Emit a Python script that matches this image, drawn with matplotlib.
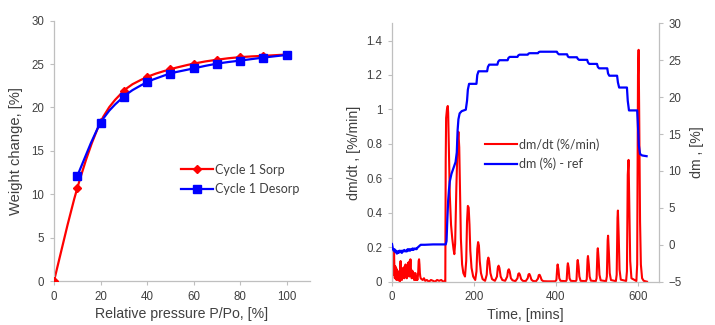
import matplotlib
matplotlib.use("Agg")
import matplotlib.pyplot as plt
from matplotlib.path import Path
from matplotlib.patches import PathPatch
from matplotlib.lines import Line2D
import numpy as np

# ---- Isotherm (left panel) ----
pressure_sorp = [0, 10, 20, 30, 40, 50, 60, 70, 80, 90, 100]
weight_sorp = [0.0, 10.7, 18.3, 21.9, 23.5, 24.4, 25.05, 25.5, 25.8, 25.95, 26.1]
pressure_desorp = [10, 20, 30, 40, 50, 60, 70, 80, 90, 100]
weight_desorp = [12.1, 18.2, 21.25, 22.9, 23.9, 24.5, 25.05, 25.4, 25.75, 26.05]

# ---- Kinetics (right panel) ----
# dm/dt trace, %/min
rate_time = [
    0, 1, 2, 3, 4, 5, 6, 7, 8, 9, 10, 11, 12, 13, 14, 15, 16, 17, 18, 19,
    20, 21, 22, 23, 24, 25, 26, 27, 28, 29, 30, 31, 32, 33, 34, 35, 36, 37, 38, 39,
    40, 41, 42, 43, 44, 45, 46, 47, 48, 49, 50, 51, 52, 53, 54, 55, 56, 57, 58, 59,
    60, 61, 62, 63, 64, 65, 66, 67, 68, 69, 70,
    72, 75, 78, 81, 85, 90, 95, 100, 105, 110, 115, 120, 125, 129, 130,
    131, 132, 134, 136, 137, 139, 141, 144, 147, 150, 152, 154, 157, 160, 162, 164,
    166, 168, 171, 174, 178, 181, 183, 185, 187, 189, 191, 194, 198, 203,
    206, 208, 210, 212, 214, 217, 221, 227,
    231, 233, 235, 237, 240, 244, 251,
    256, 258, 260, 262, 265, 269, 276,
    281, 283, 285, 287, 290, 294, 301,
    306, 308, 310, 312, 315, 319, 326,
    331, 333, 335, 337, 340, 344, 351,
    356, 358, 360, 362, 365, 369, 380, 398,
    401, 403, 404, 406, 408, 411, 424,
    426, 428, 429, 431, 433, 436, 448,
    450, 452, 453, 455, 457, 460, 473,
    475, 477, 478, 480, 482, 485, 497,
    499, 501, 502, 504, 506, 509, 522,
    524, 526, 527, 529, 531, 534, 546,
    548, 550, 551, 553, 555, 558, 571,
    573, 575, 577, 579, 581, 584, 596,
    598, 600, 601.5, 603, 605, 607, 610, 614, 622,
]
rate_value = [
    0.00, 0.19, 0.10, 0.16, 0.04, 0.17, 0.06, 0.02, 0.09, 0.03, 0.08, 0.01, 0.07, 0.03, 0.05, 0.01, 0.06, 0.02, 0.04, 0.00,
    0.09, 0.12, 0.03, 0.06, 0.01, 0.05, 0.02, 0.08, 0.03, 0.07, 0.02, 0.09, 0.04, 0.10, 0.03, 0.06, 0.02, 0.08, 0.04, 0.11,
    0.05, 0.08, 0.03, 0.12, 0.06, 0.13, 0.04, 0.07, 0.02, 0.05, 0.03, 0.06, 0.02, 0.05, 0.01, 0.04, 0.02, 0.05, 0.01, 0.03,
    0.01, 0.02, 0.01, 0.03, 0.06, 0.12, 0.13, 0.10, 0.05, 0.03, 0.02,
    0.015, 0.01, 0.02, 0.005, 0.01, 0.0, 0.01, 0.005, 0.0, 0.01, 0.005, 0.01, 0.0, 0.005, 0.0,
    0.70, 0.95, 1.00, 1.02, 0.98, 0.75, 0.50, 0.33, 0.25, 0.19, 0.16, 0.22, 0.55, 0.80, 0.87, 0.78,
    0.50, 0.25, 0.10, 0.05, 0.03, 0.12, 0.35, 0.44, 0.43, 0.33, 0.18, 0.08, 0.03, 0.01,
    0.06, 0.19, 0.23, 0.21, 0.12, 0.05, 0.015, 0.005,
    0.04, 0.12, 0.14, 0.12, 0.05, 0.015, 0.005,
    0.03, 0.08, 0.093, 0.08, 0.03, 0.01, 0.005,
    0.03, 0.065, 0.072, 0.06, 0.02, 0.008, 0.003,
    0.02, 0.045, 0.049, 0.04, 0.015, 0.005, 0.003,
    0.02, 0.042, 0.045, 0.035, 0.012, 0.004, 0.002,
    0.018, 0.038, 0.04, 0.03, 0.01, 0.003, 0.002, 0.002,
    0.01, 0.08, 0.10, 0.07, 0.02, 0.005, 0.003,
    0.01, 0.09, 0.107, 0.08, 0.02, 0.005, 0.003,
    0.01, 0.11, 0.126, 0.09, 0.03, 0.005, 0.003,
    0.015, 0.13, 0.149, 0.10, 0.03, 0.006, 0.003,
    0.02, 0.17, 0.194, 0.13, 0.04, 0.008, 0.003,
    0.03, 0.24, 0.267, 0.17, 0.05, 0.01, 0.003,
    0.04, 0.37, 0.413, 0.26, 0.07, 0.012, 0.004,
    0.06, 0.62, 0.707, 0.42, 0.12, 0.02, 0.004,
    0.10, 1.20, 1.346, 0.95, 0.35, 0.10, 0.02, 0.005, 0.0,
]

# mass change relative to reference, %
mass_time = [
    0, 2, 4, 6, 8, 10, 12, 14, 16, 18, 20, 22, 24, 26, 28, 30, 32, 34, 36, 38,
    40, 42, 44, 46, 48, 50, 52, 54, 56, 58, 60, 62, 64, 66, 68, 70, 74, 80, 100, 120, 131,
    133, 135, 137, 139, 141, 145, 150, 155, 158, 160, 162, 165, 170, 180,
    183, 185, 188, 206, 208, 211, 232, 234, 237, 257, 259, 262, 282, 284, 287,
    306, 308, 311, 331, 333, 336, 356, 358, 361,
    402, 404, 407, 427, 429, 432, 451, 453, 456, 476, 478, 481, 500, 502, 505,
    525, 527, 530, 549, 551, 554, 573, 575, 578, 598, 600, 602, 605, 610, 621,
]
mass_value = [
    0.1, -0.5, -0.8, -0.6, -1.0, -0.8, -1.2, -0.9, -1.1, -0.8, -1.0, -0.8, -1.1, -0.8, -0.9, -0.7, -0.9, -0.8, -0.9, -0.6,
    -0.8, -0.6, -0.8, -0.6, -0.7, -0.5, -0.7, -0.5, -0.6, -0.5, -0.6, -0.4, -0.3, -0.2, -0.1, 0.0, 0.0, 0.0, 0.05, 0.05, 0.05,
    0.5, 3.5, 6.0, 7.5, 8.6, 9.6, 10.4, 11.2, 12.5, 15.5, 17.0, 17.8, 18.1, 18.3,
    19.5, 21.0, 21.8, 21.8, 23.0, 23.5, 23.5, 24.1, 24.4, 24.4, 24.8, 25.0, 25.0, 25.3, 25.45,
    25.45, 25.65, 25.75, 25.75, 25.9, 25.95, 25.95, 26.1, 26.15,
    26.15, 25.95, 25.8, 25.8, 25.5, 25.4, 25.4, 25.2, 25.05, 25.05, 24.7, 24.5, 24.5, 24.1, 23.9,
    23.9, 23.2, 22.9, 22.9, 22.0, 21.3, 21.3, 19.5, 18.2, 18.2, 16.0, 13.5, 12.3, 12.1, 12.0,
]

rate_ticks = [0, 0.2, 0.4, 0.6, 0.8, 1.0, 1.2, 1.4]
rate_ticklabels = ["0", "0.2", "0.4", "0.6", "0.8", "1", "1.2", "1.4"]
mass_ticks = [-5, 0, 5, 10, 15, 20, 25, 30]
time_ticks = [0, 200, 400, 600]

RED = "#ff0000"
BLUE = "#0000ff"
AXIS = "#bfbfbf"
TEXT = "#404040"
TICK_FONT = "Liberation Sans"
LEG_FONT = "Lato"

plt.rcParams["font.family"] = [TICK_FONT, "DejaVu Sans"]


def smooth_path(xs, ys):
    """Cubic Bezier path through the points (Catmull-Rom style tangents)."""
    pts = np.column_stack([xs, ys]).astype(float)
    n = len(pts)
    verts = [pts[0]]
    codes = [Path.MOVETO]
    for i in range(n - 1):
        p0 = pts[i - 1] if i > 0 else pts[i]
        p1 = pts[i]
        p2 = pts[i + 1]
        p3 = pts[i + 2] if i + 2 < n else pts[i + 1]
        c1 = p1 + (p2 - p0) / 6.0
        c2 = p2 - (p3 - p1) / 6.0
        verts += [c1, c2, p2]
        codes += [Path.CURVE4] * 3
    return Path(verts, codes)


def style_axes(ax, sides):
    for s in ax.spines:
        ax.spines[s].set_visible(s in sides)
        ax.spines[s].set_color(AXIS)
        ax.spines[s].set_linewidth(0.9)
    ax.tick_params(colors=AXIS, labelcolor=TEXT, labelsize=8.3, length=3, width=0.8, pad=4)


fig = plt.figure(figsize=(7.15, 3.25), dpi=100)

# ---------------- left panel ----------------
ax1 = fig.add_axes([54 / 715, 1 - 281 / 325, 256 / 715, 260.3 / 325])
style_axes(ax1, ("left", "bottom"))
ax1.add_patch(PathPatch(smooth_path(pressure_sorp, weight_sorp), fill=False,
                        edgecolor=RED, lw=1.6, zorder=2))
ax1.plot(pressure_sorp, weight_sorp, ls="none", marker="D", ms=4.2,
         color=RED, zorder=3)
ax1.add_patch(PathPatch(smooth_path(pressure_desorp, weight_desorp), fill=False,
                        edgecolor=BLUE, lw=1.6, zorder=4))
ax1.plot(pressure_desorp, weight_desorp, ls="none", marker="s", ms=6.3,
         color=BLUE, zorder=5)
ax1.set_xlim(0, 110)
ax1.set_ylim(0, 30)
ax1.set_xticks([0, 20, 40, 60, 80, 100])
ax1.set_yticks([0, 5, 10, 15, 20, 25, 30])
ax1.set_xlabel("Relative pressure P/Po, [%]", fontsize=10.2, color=TEXT, labelpad=3)
ax1.set_ylabel("Weight change, [%]", fontsize=10.6, color=TEXT, labelpad=6)

h_sorp = Line2D([], [], color=RED, lw=1.6, marker="D", ms=4.2)
h_desorp = Line2D([], [], color=BLUE, lw=1.6, marker="s", ms=6.3)
leg1 = ax1.legend([h_sorp, h_desorp], ["Cycle 1 Sorp", "Cycle 1 Desorp"],
                  loc="upper left", bbox_to_anchor=(181 / 715, 1 - 163.5 / 325),
                  bbox_transform=fig.transFigure, frameon=False, borderpad=0,
                  borderaxespad=0, handlelength=2.55, handletextpad=0.15,
                  labelspacing=0.62, numpoints=1,
                  prop={"family": LEG_FONT, "size": 9})
for t in leg1.get_texts():
    t.set_color(TEXT)

# ---------------- right panel ----------------
ax2 = fig.add_axes([392 / 715, 1 - 281.7 / 325, 266.5 / 715, 258.4 / 325])
ax3 = ax2.twinx()
style_axes(ax2, ("left", "bottom"))
style_axes(ax3, ("right",))
ax2.plot(rate_time, rate_value, color=RED, lw=1.5)
ax3.plot(mass_time, mass_value, color=BLUE, lw=1.6)
ax2.set_xlim(0, 650)
ax2.set_ylim(0, 1.5)
ax3.set_ylim(-5, 30)
ax2.set_xticks(time_ticks)
ax2.set_yticks(rate_ticks)
ax2.set_yticklabels(rate_ticklabels)
ax3.set_yticks(mass_ticks)
ax2.set_xlabel("Time, [mins]", fontsize=10.2, color=TEXT, labelpad=3)
ax2.set_ylabel("dm/dt , [%/min]", fontsize=10.2, color=TEXT, labelpad=4)
ax3.set_ylabel("dm , [%]", fontsize=10.2, color=TEXT, labelpad=6)

h_rate = Line2D([], [], color=RED, lw=1.5)
h_mass = Line2D([], [], color=BLUE, lw=1.6)
leg2 = ax3.legend([h_rate, h_mass], ["dm/dt (%/min)", "dm (%) - ref"],
                  loc="upper left", bbox_to_anchor=(485 / 715, 1 - 138 / 325),
                  bbox_transform=fig.transFigure, frameon=False, borderpad=0,
                  borderaxespad=0, handlelength=2.55, handletextpad=0.15,
                  labelspacing=0.55,
                  prop={"family": LEG_FONT, "size": 9})
for t in leg2.get_texts():
    t.set_color(TEXT)

fig.savefig("out.png", dpi=100)
